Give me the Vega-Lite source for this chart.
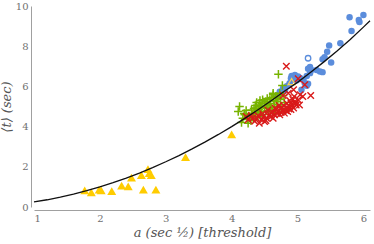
{
  "$schema": "https://vega.github.io/schema/vega-lite/v6.json",
  "width": 336,
  "height": 201,
  "autosize": {"type": "none"},
  "padding": {"left": 34, "top": 6, "right": 4, "bottom": 37},
  "background": "white",
  "config": {
    "view": {"stroke": null},
    "axis": {
      "grid": false,
      "ticks": false,
      "labelFont": "DejaVu Serif",
      "labelFontSize": 10,
      "labelColor": "#707070",
      "domainColor": "#a0a0a0",
      "domainWidth": 1,
      "titleFont": "DejaVu Serif",
      "titleFontStyle": "italic",
      "titleFontWeight": "normal",
      "titleFontSize": 13,
      "titleColor": "#555555"
    }
  },
  "datasets": {
    "pts": [
      {"g": "blue", "a": 5.79, "t": 9.44}, {"g": "blue", "a": 6.0, "t": 9.55}, {"g": "blue", "a": 5.93, "t": 9.3},
      {"g": "blue", "a": 5.94, "t": 9.2}, {"g": "blue", "a": 5.82, "t": 8.76}, {"g": "blue", "a": 5.65, "t": 8.15},
      {"g": "blue", "a": 5.48, "t": 8.03}, {"g": "blue", "a": 5.45, "t": 7.72}, {"g": "blue", "a": 5.38, "t": 7.35},
      {"g": "blue", "a": 5.41, "t": 7.45}, {"g": "blue", "a": 5.51, "t": 7.19}, {"g": "blue", "a": 5.38, "t": 6.71},
      {"g": "blue", "a": 5.29, "t": 6.82}, {"g": "blue", "a": 5.19, "t": 6.97}, {"g": "blue", "a": 5.16, "t": 6.88},
      {"g": "blue", "a": 5.21, "t": 6.82}, {"g": "blue", "a": 5.19, "t": 6.66}, {"g": "blue", "a": 5.34, "t": 6.74},
      {"g": "blue", "a": 5.14, "t": 6.52}, {"g": "blue", "a": 4.91, "t": 6.52}, {"g": "blue", "a": 4.96, "t": 6.57},
      {"g": "blue", "a": 5.01, "t": 6.49}, {"g": "blue", "a": 4.94, "t": 6.33}, {"g": "blue", "a": 4.99, "t": 6.3},
      {"g": "blue", "a": 5.04, "t": 6.42}, {"g": "blue", "a": 5.11, "t": 6.16}, {"g": "blue", "a": 5.14, "t": 6.03},
      {"g": "blue", "a": 5.09, "t": 6.33}, {"g": "blue", "a": 4.88, "t": 6.16}, {"g": "blue", "a": 4.83, "t": 5.99},
      {"g": "blue", "a": 4.78, "t": 5.91}, {"g": "blue", "a": 5.16, "t": 6.13}, {"g": "blue", "a": 5.06, "t": 5.83},
      {"g": "blue", "a": 4.73, "t": 5.74}, {"g": "blue", "a": 4.81, "t": 5.8}, {"g": "blue", "a": 4.69, "t": 5.55},
      {"g": "blue", "a": 4.86, "t": 6.05}, {"g": "blue", "a": 4.9, "t": 6.4},
      {"g": "bluehollow", "a": 5.16, "t": 7.4},
      {"g": "green", "a": 4.12, "t": 5.0}, {"g": "green", "a": 4.1, "t": 4.75}, {"g": "green", "a": 4.2, "t": 4.59},
      {"g": "green", "a": 4.27, "t": 4.5}, {"g": "green", "a": 4.17, "t": 4.42}, {"g": "green", "a": 4.15, "t": 4.2},
      {"g": "green", "a": 4.25, "t": 4.17}, {"g": "green", "a": 4.37, "t": 4.92}, {"g": "green", "a": 4.42, "t": 5.08},
      {"g": "green", "a": 4.5, "t": 5.17}, {"g": "green", "a": 4.58, "t": 5.33}, {"g": "green", "a": 4.63, "t": 5.58},
      {"g": "green", "a": 4.7, "t": 5.41}, {"g": "green", "a": 4.45, "t": 4.75}, {"g": "green", "a": 4.53, "t": 4.9},
      {"g": "green", "a": 4.6, "t": 4.94}, {"g": "green", "a": 4.65, "t": 5.0}, {"g": "green", "a": 4.35, "t": 4.67},
      {"g": "green", "a": 4.3, "t": 4.83}, {"g": "green", "a": 4.4, "t": 4.5}, {"g": "green", "a": 4.68, "t": 5.25},
      {"g": "green", "a": 4.55, "t": 5.08}, {"g": "green", "a": 4.73, "t": 5.66}, {"g": "green", "a": 4.47, "t": 5.33},
      {"g": "green", "a": 4.75, "t": 5.0}, {"g": "green", "a": 4.71, "t": 6.6}, {"g": "green", "a": 4.77, "t": 6.05},
      {"g": "green", "a": 4.63, "t": 5.66}, {"g": "green", "a": 4.38, "t": 5.2}, {"g": "green", "a": 4.33, "t": 4.4},
      {"g": "green", "a": 4.48, "t": 4.6}, {"g": "green", "a": 4.56, "t": 4.75}, {"g": "green", "a": 4.62, "t": 4.8},
      {"g": "green", "a": 4.52, "t": 5.25}, {"g": "green", "a": 4.44, "t": 5.0}, {"g": "green", "a": 4.8, "t": 5.2},
      {"g": "green", "a": 4.22, "t": 4.8}, {"g": "green", "a": 4.66, "t": 4.7},
      {"g": "green", "a": 4.24, "t": 4.35}, {"g": "green", "a": 4.32, "t": 4.6}, {"g": "green", "a": 4.36, "t": 5.05},
      {"g": "green", "a": 4.41, "t": 4.85}, {"g": "green", "a": 4.46, "t": 5.15}, {"g": "green", "a": 4.5, "t": 4.95},
      {"g": "green", "a": 4.54, "t": 5.4}, {"g": "green", "a": 4.59, "t": 5.15}, {"g": "green", "a": 4.64, "t": 5.3},
      {"g": "green", "a": 4.7, "t": 5.1}, {"g": "green", "a": 4.74, "t": 5.35}, {"g": "green", "a": 4.78, "t": 5.55},
      {"g": "green", "a": 4.29, "t": 4.3}, {"g": "green", "a": 4.39, "t": 4.7}, {"g": "green", "a": 4.43, "t": 5.3},
      {"g": "green", "a": 4.57, "t": 4.95}, {"g": "green", "a": 4.61, "t": 5.45}, {"g": "green", "a": 4.67, "t": 5.5},
      {"g": "green", "a": 4.19, "t": 4.65}, {"g": "green", "a": 4.34, "t": 4.9},
      {"g": "red", "a": 4.32, "t": 4.42}, {"g": "red", "a": 4.35, "t": 4.26}, {"g": "red", "a": 4.45, "t": 4.34},
      {"g": "red", "a": 4.42, "t": 4.17}, {"g": "red", "a": 4.53, "t": 4.42}, {"g": "red", "a": 4.6, "t": 4.67},
      {"g": "red", "a": 4.65, "t": 4.59}, {"g": "red", "a": 4.7, "t": 4.75}, {"g": "red", "a": 4.78, "t": 4.83},
      {"g": "red", "a": 4.83, "t": 4.92}, {"g": "red", "a": 4.88, "t": 5.0}, {"g": "red", "a": 4.9, "t": 5.17},
      {"g": "red", "a": 4.96, "t": 5.25}, {"g": "red", "a": 5.01, "t": 5.33}, {"g": "red", "a": 4.98, "t": 5.08},
      {"g": "red", "a": 5.03, "t": 5.08}, {"g": "red", "a": 4.58, "t": 4.59}, {"g": "red", "a": 4.73, "t": 4.59},
      {"g": "red", "a": 4.8, "t": 4.67}, {"g": "red", "a": 4.55, "t": 4.83}, {"g": "red", "a": 4.66, "t": 4.92},
      {"g": "red", "a": 4.85, "t": 4.75}, {"g": "red", "a": 4.94, "t": 4.92}, {"g": "red", "a": 5.08, "t": 5.5},
      {"g": "red", "a": 4.5, "t": 4.25}, {"g": "red", "a": 4.63, "t": 4.42}, {"g": "red", "a": 4.25, "t": 4.34},
      {"g": "red", "a": 4.22, "t": 4.5}, {"g": "red", "a": 4.83, "t": 7.0}, {"g": "red", "a": 5.01, "t": 6.38},
      {"g": "red", "a": 5.11, "t": 6.08}, {"g": "red", "a": 5.2, "t": 5.55}, {"g": "red", "a": 4.94, "t": 5.83},
      {"g": "red", "a": 4.86, "t": 5.66}, {"g": "red", "a": 5.04, "t": 5.58}, {"g": "red", "a": 4.78, "t": 5.55},
      {"g": "red", "a": 4.72, "t": 5.05}, {"g": "red", "a": 4.9, "t": 4.85}, {"g": "red", "a": 4.76, "t": 4.95},
      {"g": "red", "a": 4.4, "t": 4.55}, {"g": "red", "a": 4.68, "t": 4.85},
      {"g": "red", "a": 4.38, "t": 4.4}, {"g": "red", "a": 4.48, "t": 4.5}, {"g": "red", "a": 4.56, "t": 4.55},
      {"g": "red", "a": 4.62, "t": 4.72}, {"g": "red", "a": 4.75, "t": 4.7}, {"g": "red", "a": 4.82, "t": 4.8},
      {"g": "red", "a": 4.87, "t": 4.88}, {"g": "red", "a": 4.92, "t": 5.05}, {"g": "red", "a": 4.97, "t": 5.15},
      {"g": "red", "a": 4.93, "t": 5.35}, {"g": "red", "a": 4.84, "t": 5.15}, {"g": "red", "a": 4.79, "t": 5.05},
      {"g": "red", "a": 4.69, "t": 4.65}, {"g": "red", "a": 4.52, "t": 4.3}, {"g": "red", "a": 4.47, "t": 4.65},
      {"g": "red", "a": 4.3, "t": 4.55}, {"g": "red", "a": 4.6, "t": 4.5}, {"g": "red", "a": 4.88, "t": 5.3},
      {"g": "red", "a": 4.74, "t": 4.9}, {"g": "red", "a": 4.95, "t": 5.5},
      {"g": "yellow", "a": 1.77, "t": 0.83}, {"g": "yellow", "a": 1.87, "t": 0.73}, {"g": "yellow", "a": 1.99, "t": 0.86},
      {"g": "yellow", "a": 2.02, "t": 0.83}, {"g": "yellow", "a": 2.18, "t": 0.79}, {"g": "yellow", "a": 2.33, "t": 1.06},
      {"g": "yellow", "a": 2.43, "t": 1.03}, {"g": "yellow", "a": 2.48, "t": 1.46}, {"g": "yellow", "a": 2.63, "t": 1.59},
      {"g": "yellow", "a": 2.66, "t": 0.86}, {"g": "yellow", "a": 2.73, "t": 1.89}, {"g": "yellow", "a": 2.75, "t": 1.69},
      {"g": "yellow", "a": 2.78, "t": 1.59}, {"g": "yellow", "a": 2.85, "t": 0.86}, {"g": "yellow", "a": 3.3, "t": 2.48},
      {"g": "yellow", "a": 4.0, "t": 3.61},
      {"g": "yellowhollow", "a": 4.91, "t": 6.24}
    ],
    "fit": [
      {"a": 1.0, "t": 0.25}, {"a": 1.2, "t": 0.36}, {"a": 1.4, "t": 0.49}, {"a": 1.6, "t": 0.64},
      {"a": 1.8, "t": 0.81}, {"a": 2.0, "t": 1.0}, {"a": 2.2, "t": 1.21}, {"a": 2.4, "t": 1.44},
      {"a": 2.6, "t": 1.69}, {"a": 2.8, "t": 1.96}, {"a": 3.0, "t": 2.25}, {"a": 3.2, "t": 2.56},
      {"a": 3.4, "t": 2.89}, {"a": 3.6, "t": 3.24}, {"a": 3.8, "t": 3.61}, {"a": 4.0, "t": 4.0},
      {"a": 4.2, "t": 4.41}, {"a": 4.4, "t": 4.84}, {"a": 4.6, "t": 5.29}, {"a": 4.8, "t": 5.76},
      {"a": 5.0, "t": 6.2}, {"a": 5.2, "t": 6.7}, {"a": 5.4, "t": 7.22}, {"a": 5.6, "t": 7.76},
      {"a": 5.8, "t": 8.33}, {"a": 6.0, "t": 8.95}, {"a": 6.1, "t": 9.27}
    ]
  },
  "encoding": {
    "x": {
      "field": "a", "type": "quantitative",
      "scale": {"domain": [1, 6.1], "nice": false, "zero": false},
      "axis": {"values": [1, 2, 3, 4, 5, 6], "offset": 3, "labelPadding": 3, "title": "a (sec ½) [threshold]", "titlePadding": 3}
    },
    "y": {
      "field": "t", "type": "quantitative",
      "scale": {"domain": [0, 10], "nice": false},
      "axis": {"values": [0, 2, 4, 6, 8, 10], "offset": 3, "labelPadding": 3, "title": "⟨t⟩ (sec)", "titlePadding": 2}
    }
  },
  "layer": [
    {
      "data": {"name": "pts"},
      "transform": [{"filter": "datum.g === 'blue'"}],
      "mark": {"type": "point", "shape": "circle", "filled": true, "size": 42, "color": "#5b8ddc", "opacity": 1}
    },
    {
      "data": {"name": "pts"},
      "transform": [{"filter": "datum.g === 'bluehollow'"}],
      "mark": {"type": "point", "shape": "circle", "filled": false, "size": 30, "color": "#5b8ddc", "strokeWidth": 1.3, "opacity": 1}
    },
    {
      "data": {"name": "pts"},
      "transform": [{"filter": "datum.g === 'green'"}],
      "mark": {"type": "point", "shape": "M-1,0L1,0M0,-1L0,1", "filled": false, "size": 72, "color": "#77b300", "strokeWidth": 1.5, "opacity": 1}
    },
    {
      "data": {"name": "pts"},
      "transform": [{"filter": "datum.g === 'red'"}],
      "mark": {"type": "point", "shape": "M-1,-1L1,1M-1,1L1,-1", "filled": false, "size": 42, "color": "#d91a1a", "strokeWidth": 1.4, "opacity": 1}
    },
    {
      "data": {"name": "pts"},
      "transform": [{"filter": "datum.g === 'yellowhollow'"}],
      "mark": {"type": "point", "shape": "triangle-up", "filled": false, "size": 50, "color": "#ffd24d", "strokeWidth": 1.2, "opacity": 1}
    },
    {
      "data": {"name": "pts"},
      "transform": [{"filter": "datum.g === 'yellow'"}],
      "mark": {"type": "point", "shape": "triangle-up", "filled": true, "size": 80, "color": "#ffcc00", "opacity": 1}
    },
    {
      "data": {"name": "fit"},
      "mark": {"type": "line", "color": "#111111", "strokeWidth": 1.3},
      "encoding": {}
    }
  ]
}
